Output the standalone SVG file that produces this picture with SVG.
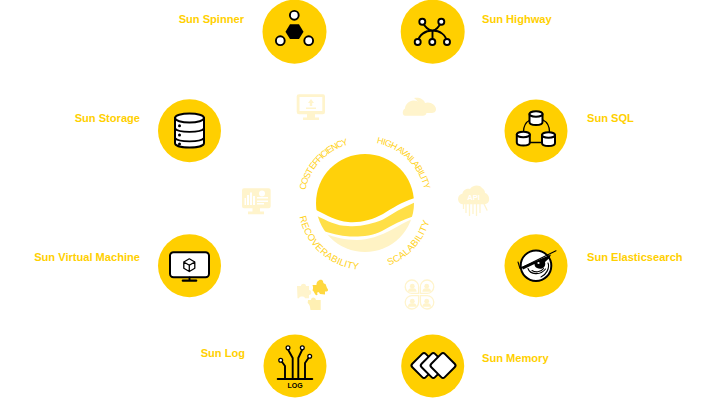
<svg xmlns="http://www.w3.org/2000/svg" xmlns:xlink="http://www.w3.org/1999/xlink" width="715" height="402" viewBox="0 0 715 402">
<style>
.disc{fill:#ffcf00}
.lbl{font:bold 11.1px "Liberation Sans",Arial,sans-serif;fill:#ffd000}
.end{text-anchor:end}
.arc{font:9px "Liberation Sans",Arial,sans-serif;fill:#ffd21a;letter-spacing:-.75px}
.arcc{letter-spacing:-1.05px}
.arcb{font:9.5px "Liberation Sans",Arial,sans-serif;fill:#ffd21a;letter-spacing:.15px}
.ink{fill:none;stroke:#000;stroke-width:1.9;stroke-linecap:round;stroke-linejoin:round}
.paper{fill:#fff;stroke:#000;stroke-width:2;stroke-linejoin:round}
.dot{fill:#fff;stroke:#000;stroke-width:1.9}
.ghost{fill:#fff4cc}
.ghostline{fill:none;stroke:#fff4cc;stroke-width:1.3}
</style>
<defs>
<clipPath id="sunclip"><circle cx="365" cy="203" r="49"/></clipPath>
<path id="p-cost" d="M305.300 190.300A61 61 0 0 1 365 142"/>
<path id="p-high" d="M376.600 143.100A61 61 0 0 1 426 203"/>
<path id="p-rec" d="M299.500 216.900A67 67 0 0 0 365 270"/>
<path id="p-sca" d="M389 265.500A67 67 0 0 0 432 203"/>
<g id="cyl">
<path class="paper" d="M-6.500 -4V4C-6.500 8 6.500 8 6.500 4V-4Z"/>
<ellipse class="paper" cx="0" cy="-4" rx="6.500" ry="2.800"/>
</g>
<g id="person">
<circle cx="0" cy="-1.800" r="2.400" class="ghost"/>
<path class="ghost" d="M-4.300 3.800C-4.300 0.500-2 0.200 0 0.200S4.300 0.500 4.300 3.800Z"/>
</g>
</defs>

<g id="hub">
<g clip-path="url(#sunclip)">
<path fill="#ffd10a" d="M310 150H420V196.600C405 200 394 207 383 214C372 220 360 223 348 222C336 221 326 215 314 209Z"/>
<path fill="#ffdf47" d="M314 214.500C326 220 336 226 348 226C360 227 372 224 383 219.500C394 213 405 206 420 200.500V214C405 218.500 394 224 382 231C372 236 360 237 350 236.500C340 236 330 233 320 230Z"/>
<path fill="#fff3c4" d="M325 234C335 237 345 240 357 240C368 240 380 236 393 229C400 225 408 220 420 216V260H325Z"/>
</g>
<text class="arc arcc"><textPath xlink:href="#p-cost" href="#p-cost">COST EFFICIENCY</textPath></text>
<text class="arc"><textPath xlink:href="#p-high" href="#p-high">HIGH AVAILABILITY</textPath></text>
<text class="arcb"><textPath xlink:href="#p-rec" href="#p-rec">RECOVERABILITY</textPath></text>
<text class="arcb"><textPath xlink:href="#p-sca" href="#p-sca">SCALABILITY</textPath></text>
</g>

<g id="ghost-upload">
<path class="ghost" fill-rule="evenodd" d="M299 94.300H323Q325 94.300 325 96.300V112Q325 114.300 323 114.300H315V117.500H319V120H303V117.500H307V114.300H299Q296.700 114.300 296.700 112V96.300Q296.700 94.300 299 94.300ZM299.500 97V111H322.300V97Z"/>
<path class="ghost" d="M311 99L314 103H312.200V106H309.800V103H308ZM306 107.500H316V109H306Z"/>
</g>
<g id="ghost-chart">
<path class="ghost" d="M244 188.300H268.700Q270.700 188.300 270.700 190.300V206.300Q270.700 208.300 268.700 208.300H260V211.500H264V214.300H248V211.500H252.500V208.300H244Q242 208.300 242 206.300V190.300Q242 188.300 244 188.300Z"/>
<path fill="#fff" d="M244.500 205V198H246V205ZM247 205V195H249V205ZM250 205V192.500H252V205ZM253 205V196H255V205ZM257 197H268V198.500H257ZM257 200.500H268V202H257ZM257 203H264V204.500H257Z"/>
<circle cx="262" cy="193.500" r="3" fill="#fff"/>
</g>
<g id="ghost-cloud">
<path class="ghost" d="M414 98C419 97 424 99 425 103C430 101 436 105 436 109C436 112 434 113 431 113H426C425 110 423 108 420 107C419 103 417 100 414 98Z"/>
<path class="ghost" d="M405 115.700C402 115.700 402 110 405 108.500C405 104 410 100 414 100.500C419 101 422 104 422 107.500C425 108 427 110 426.500 113C426 115 425 115.700 423 115.700Z"/>
</g>
<g id="ghost-api">
<path class="ghost" d="M463 204.300C457 204.300 456 195 462.500 193.500C463 190 467 188 470 189C472 185.500 479 184 482 188C484 189 485 191 485 193C490 194 491.500 204.300 484 204.300Z"/>
<text x="473.500" y="200" text-anchor="middle" font-family="'Liberation Sans',Arial,sans-serif" font-size="7.500" font-weight="bold" fill="#fff">API</text>
<path class="ghostline" d="M466 204V213M469.500 204V216M473 204V214M476.500 204V216M480 204V213M484 204L487 210H487.500M463.500 204V209"/>
</g>
<g id="ghost-puzzle">
<path class="ghost" d="M297 286H301C301 283 306 283 306 286H309V290C312 290 312 295 309 295V298.300H305C305 296 299 296 299 298.300H297.500Z"/>
<path fill="#ffd83f" d="M312.500 285H316.500C316 281 321 278 323 281C323 283 324 284 325.500 284L327 288C329 290 328 292 325 291.500V294.500L320 294C319 291.500 316.500 291 317.500 295C314.500 296 314.500 291 312.500 290.500C313.500 288 313 287 312.500 285Z"/>
<path fill="#fff0b3" d="M308 300H311C311 297 315 296.500 316 300H320.700V310H310.500C310 306.500 310 305 307.700 303Z"/>
</g>
<g id="ghost-people">
<path class="ghostline" d="M418.600 293.400H412.300A6.700 6.700 0 1 1 418.600 287Z"/>
<path class="ghostline" d="M420.400 293.400H426.700A6.700 6.700 0 1 0 420.400 287Z"/>
<path class="ghostline" d="M418.600 295.600H412.300A6.700 6.700 0 1 0 418.600 302Z"/>
<path class="ghostline" d="M420.400 295.600H426.700A6.700 6.700 0 1 1 420.400 302Z"/>
<use href="#person" x="412.300" y="288"/><use href="#person" x="426.700" y="288"/><use href="#person" x="412.300" y="303"/><use href="#person" x="426.700" y="303"/>
</g>

<g id="sun-spinner">
<circle class="disc" cx="294.500" cy="31.700" r="32"/>
<path d="M285.500 31.700L290 24.300H299L303.500 31.700L299 39.100H290Z"/>
<circle class="dot" cx="294.300" cy="15.300" r="4.400"/>
<circle class="dot" cx="280.300" cy="40.700" r="4.400"/>
<circle class="dot" cx="308.700" cy="40.700" r="4.400"/>
<text class="lbl end" x="244" y="23">Sun Spinner</text>
</g>
<g id="sun-highway">
<circle class="disc" cx="432.700" cy="31.700" r="32"/>
<path class="ink" d="M422.300 21.700C425 27 429 30.500 432.500 30.500C436 30.500 439 27 441.300 21.700M432.500 30.500V42M417.700 42C419 35 425 30.500 432.500 30.500C440 30.500 446 35 447 42"/>
<circle class="dot" cx="422.300" cy="21.700" r="3"/><circle class="dot" cx="441.300" cy="21.700" r="3"/>
<circle class="dot" cx="417.700" cy="42" r="3"/><circle class="dot" cx="432.300" cy="42" r="3"/><circle class="dot" cx="447" cy="42" r="3"/>
<text class="lbl" x="482" y="23">Sun Highway</text>
</g>
<g id="sun-storage">
<circle class="disc" cx="189.500" cy="130.700" r="31.500"/>
<path class="paper" d="M175 118V143C175 149 204 149 204 143V118Z"/>
<ellipse class="paper" cx="189.500" cy="118" rx="14.500" ry="4.500"/>
<path class="ink" d="M175 128.500C178 133 201 133 204 128.500M175 138C178 142.500 201 142.500 204 138"/>
<circle cx="179.500" cy="125.700" r="1.500"/><circle cx="179.500" cy="135" r="1.500"/><circle cx="179.500" cy="144" r="1.500"/>
<text class="lbl end" x="140" y="122">Sun Storage</text>
</g>
<g id="sun-sql">
<circle class="disc" cx="536" cy="131" r="31.500"/>
<path class="ink" style="stroke-width:1.300" d="M530 120C526 122 523.500 127 523.500 132M543 120C547 122 549.500 127 549.500 132M530 142.500H543"/>
<use href="#cyl" x="536" y="118"/><use href="#cyl" x="523.300" y="138.500"/><use href="#cyl" x="548.500" y="139"/>
<text class="lbl" x="587" y="122">Sun SQL</text>
</g>
<g id="sun-vm">
<circle class="disc" cx="189.500" cy="265.700" r="31.500"/>
<rect class="paper" x="170" y="252.300" width="39" height="25" rx="3.500"/>
<path class="ink" d="M189.500 277.500V280"/>
<rect x="181.700" y="279.500" width="15.600" height="2.300" rx="1.100"/>
<path class="ink" style="stroke-width:1.300" d="M189.300 258.800L194.800 262V268.300L189.300 271.500L183.800 268.300V262ZM183.800 262L189.300 265.200L194.800 262M189.300 265.200V271.500"/>
<text class="lbl end" x="140" y="261">Sun Virtual Machine</text>
</g>
<g id="sun-elastic">
<circle class="disc" cx="536" cy="265.700" r="31.500"/>
<circle class="paper" cx="536" cy="265.700" r="15.300"/>
<path d="M521.500 267L551 254.500L549.500 258L545 262C546.500 268 541 270 537 268C535 267 534.500 265.500 534.500 264L523 269.500Z"/>
<circle cx="538.500" cy="263" r="1.100" fill="#fff"/>
<path class="ink" style="stroke-width:1.100" d="M518 262L520 268.500M520 268.500L556 250.700M528 268.500C530 274.500 540 276 545.500 269M532 270.500C535 272.500 541 272.500 543.500 268.500M548 263C550 268 546 275 541 277"/>
<text class="lbl" x="587" y="261">Sun Elasticsearch</text>
</g>
<g id="sun-log">
<circle class="disc" cx="295" cy="366" r="31.500"/>
<path class="ink" d="M277.700 379H312.300M285 379V366L281 360.500M292.700 379V358L288 349.500M298.300 379V358L302.300 349.500M305 379V363L309.700 356.300"/>
<circle class="dot" style="stroke-width:1.300" cx="280.700" cy="360.300" r="1.900"/><circle class="dot" style="stroke-width:1.300" cx="288" cy="347.700" r="1.900"/><circle class="dot" style="stroke-width:1.300" cx="302.300" cy="347.700" r="1.900"/><circle class="dot" style="stroke-width:1.300" cx="309.700" cy="356.300" r="1.900"/>
<text x="295" y="388" text-anchor="middle" font-family="'Liberation Sans',Arial,sans-serif" font-size="7" font-weight="bold">LOG</text>
<text class="lbl end" x="245" y="357">Sun Log</text>
</g>
<g id="sun-memory">
<circle class="disc" cx="432.700" cy="366" r="31.500"/>
<rect class="paper" x="-9.500" y="-9.500" width="19" height="19" rx="2.500" transform="translate(424 365.500) rotate(45)"/>
<rect class="paper" x="-9.500" y="-9.500" width="19" height="19" rx="2.500" transform="translate(433.300 365.500) rotate(45)"/>
<rect class="paper" x="-9.500" y="-9.500" width="19" height="19" rx="2.500" transform="translate(443 365.500) rotate(45)"/>
<text class="lbl" x="482" y="362">Sun Memory</text>
</g>
</svg>
